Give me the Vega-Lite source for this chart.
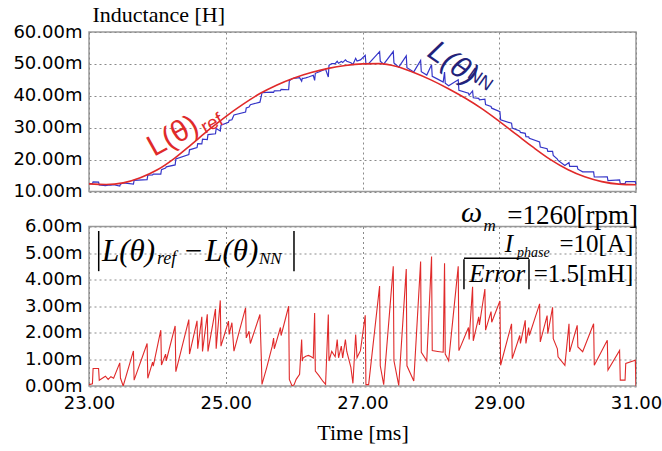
{
  "$schema": "https://vega.github.io/schema/vega-lite/v6.json",
  "padding": {"left": 12, "top": 2, "right": 5, "bottom": 5},
  "bounds": "flush",
  "spacing": 34.5,
  "background": "white",
  "config": {
    "view": {"stroke": "#9a9a9a", "strokeWidth": 1.5},
    "axis": {
      "labelFont": "DejaVu Sans", "labelFontSize": 18, "labelColor": "#000000", "labelOverlap": false, "labelFlush": false,
      "gridColor": "#8a8a8a", "gridDash": [2, 3], "gridWidth": 1,
      "domain": false, "ticks": false
    },
    "text": {"font": "Liberation Serif", "color": "#000000"}
  },
  "datasets": {
    "ref": [
      {"t": 23, "ref": 12.4}, {"t": 23.25, "ref": 12.2}, {"t": 23.5, "ref": 12.7}, {"t": 23.75, "ref": 14.3},
      {"t": 24, "ref": 16.8}, {"t": 24.25, "ref": 20.4}, {"t": 24.5, "ref": 24.8}, {"t": 24.75, "ref": 29.3},
      {"t": 25, "ref": 33.5}, {"t": 25.25, "ref": 37.3}, {"t": 25.5, "ref": 40.7}, {"t": 25.75, "ref": 43.4},
      {"t": 26, "ref": 45.6}, {"t": 26.25, "ref": 47.3}, {"t": 26.5, "ref": 48.6}, {"t": 26.75, "ref": 49.5},
      {"t": 27, "ref": 50.0}, {"t": 27.25, "ref": 50.1}, {"t": 27.5, "ref": 49.2}, {"t": 27.75, "ref": 47.3},
      {"t": 28, "ref": 45.0}, {"t": 28.25, "ref": 42.3}, {"t": 28.5, "ref": 39.3}, {"t": 28.75, "ref": 35.9},
      {"t": 29, "ref": 32.0}, {"t": 29.25, "ref": 27.9}, {"t": 29.5, "ref": 23.8}, {"t": 29.75, "ref": 20.0},
      {"t": 30, "ref": 16.9}, {"t": 30.25, "ref": 14.6}, {"t": 30.5, "ref": 13.1}, {"t": 30.75, "ref": 12.3},
      {"t": 31, "ref": 12.1}
    ],
    "err": [
      {"t": 23.00, "err": 0.05, "nn": 12.45}, {"t": 23.05, "err": 0.08, "nn": 12.44}, {"t": 23.06, "err": 0.66, "nn": 13.01},
      {"t": 23.14, "err": 0.66, "nn": 12.95}, {"t": 23.15, "err": 0.22, "nn": 12.06}, {"t": 23.24, "err": 0.37, "nn": 11.84},
      {"t": 23.28, "err": 0.25, "nn": 12.01}, {"t": 23.32, "err": 0.35, "nn": 11.99}, {"t": 23.36, "err": 0.29, "nn": 12.13},
      {"t": 23.45, "err": 0.87, "nn": 11.73}, {"t": 23.46, "err": 0.30, "nn": 12.32}, {"t": 23.50, "err": 0.00, "nn": 12.70},
      {"t": 23.65, "err": 1.32, "nn": 12.34}, {"t": 23.66, "err": 0.22, "nn": 13.50}, {"t": 23.85, "err": 1.60, "nn": 13.70},
      {"t": 23.86, "err": 0.29, "nn": 15.11}, {"t": 23.93, "err": 0.90, "nn": 15.20}, {"t": 23.94, "err": 0.75, "nn": 15.45},
      {"t": 24.05, "err": 2.10, "nn": 15.42}, {"t": 24.06, "err": 0.79, "nn": 16.87}, {"t": 24.12, "err": 1.20, "nn": 17.33},
      {"t": 24.13, "err": 0.95, "nn": 17.72}, {"t": 24.26, "err": 2.26, "nn": 18.32}, {"t": 24.27, "err": 0.54, "nn": 20.21},
      {"t": 24.46, "err": 2.50, "nn": 21.60}, {"t": 24.47, "err": 1.20, "nn": 23.07}, {"t": 24.58, "err": 2.45, "nn": 23.79},
      {"t": 24.59, "err": 1.40, "nn": 25.02}, {"t": 24.65, "err": 2.60, "nn": 24.90}, {"t": 24.66, "err": 1.30, "nn": 26.38},
      {"t": 24.73, "err": 2.70, "nn": 26.24}, {"t": 24.74, "err": 1.30, "nn": 27.82}, {"t": 24.85, "err": 2.90, "nn": 28.08},
      {"t": 24.86, "err": 1.40, "nn": 29.75}, {"t": 24.92, "err": 3.22, "nn": 28.94}, {"t": 24.93, "err": 1.50, "nn": 30.82},
      {"t": 25.04, "err": 2.44, "nn": 31.67}, {"t": 25.05, "err": 1.94, "nn": 32.32}, {"t": 25.09, "err": 2.38, "nn": 32.49},
      {"t": 25.12, "err": 1.31, "nn": 34.01}, {"t": 25.29, "err": 2.94, "nn": 34.90}, {"t": 25.30, "err": 1.81, "nn": 36.17},
      {"t": 25.34, "err": 2.06, "nn": 36.46}, {"t": 25.36, "err": 1.60, "nn": 37.20}, {"t": 25.50, "err": 2.69, "nn": 38.01},
      {"t": 25.52, "err": 1.06, "nn": 39.86}, {"t": 25.53, "err": 0.06, "nn": 40.96}, {"t": 25.60, "err": 0.70, "nn": 41.08},
      {"t": 25.68, "err": 1.50, "nn": 41.14}, {"t": 25.70, "err": 1.80, "nn": 41.06}, {"t": 25.71, "err": 1.40, "nn": 41.57},
      {"t": 25.80, "err": 2.20, "nn": 41.64}, {"t": 25.81, "err": 1.90, "nn": 42.03}, {"t": 25.92, "err": 3.00, "nn": 41.90},
      {"t": 25.93, "err": 0.25, "nn": 44.73}, {"t": 25.97, "err": 0.00, "nn": 45.34}, {"t": 26.00, "err": 0.05, "nn": 45.55},
      {"t": 26.03, "err": 0.25, "nn": 45.55}, {"t": 26.08, "err": 0.44, "nn": 45.70}, {"t": 26.11, "err": 1.75, "nn": 44.60},
      {"t": 26.12, "err": 0.94, "nn": 45.48}, {"t": 26.13, "err": 1.05, "nn": 45.43}, {"t": 26.17, "err": 1.12, "nn": 45.64},
      {"t": 26.21, "err": 1.15, "nn": 45.88}, {"t": 26.25, "err": 1.10, "nn": 46.20}, {"t": 26.28, "err": 1.05, "nn": 46.41},
      {"t": 26.30, "err": 2.75, "nn": 44.81}, {"t": 26.31, "err": 0.56, "nn": 47.05}, {"t": 26.36, "err": 0.40, "nn": 47.47},
      {"t": 26.42, "err": 0.18, "nn": 48.00}, {"t": 26.46, "err": 0.06, "nn": 48.33}, {"t": 26.50, "err": 2.69, "nn": 45.91},
      {"t": 26.51, "err": 0.94, "nn": 49.58}, {"t": 26.55, "err": 1.30, "nn": 50.08}, {"t": 26.60, "err": 1.10, "nn": 50.06},
      {"t": 26.63, "err": 1.75, "nn": 50.82}, {"t": 26.65, "err": 1.06, "nn": 50.20}, {"t": 26.69, "err": 1.50, "nn": 50.78},
      {"t": 26.71, "err": 1.06, "nn": 50.42}, {"t": 26.75, "err": 1.75, "nn": 51.25}, {"t": 26.77, "err": 1.30, "nn": 50.84},
      {"t": 26.83, "err": 0.70, "nn": 50.36}, {"t": 26.86, "err": 0.10, "nn": 49.82}, {"t": 26.90, "err": 1.94, "nn": 51.74},
      {"t": 26.92, "err": 1.07, "nn": 50.91}, {"t": 26.97, "err": 1.33, "nn": 51.27}, {"t": 27.04, "err": 2.66, "nn": 52.68},
      {"t": 27.05, "err": 0.05, "nn": 50.07}, {"t": 27.09, "err": 0.05, "nn": 50.09}, {"t": 27.25, "err": 3.76, "nn": 53.86},
      {"t": 27.26, "err": 0.76, "nn": 50.82}, {"t": 27.31, "err": 0.05, "nn": 49.93}, {"t": 27.45, "err": 4.50, "nn": 53.88},
      {"t": 27.46, "err": 0.95, "nn": 50.29}, {"t": 27.53, "err": 0.02, "nn": 48.99}, {"t": 27.64, "err": 4.40, "nn": 52.54},
      {"t": 27.65, "err": 0.76, "nn": 48.82}, {"t": 27.75, "err": 0.19, "nn": 47.49}, {"t": 27.85, "err": 4.68, "nn": 51.06},
      {"t": 27.86, "err": 1.27, "nn": 47.56}, {"t": 27.94, "err": 0.95, "nn": 46.50}, {"t": 28.01, "err": 4.87, "nn": 49.76},
      {"t": 28.02, "err": 1.33, "nn": 46.11}, {"t": 28.10, "err": 1.30, "nn": 45.22}, {"t": 28.18, "err": 1.27, "nn": 44.33},
      {"t": 28.20, "err": 4.62, "nn": 47.46}, {"t": 28.21, "err": 1.20, "nn": 43.93}, {"t": 28.26, "err": 0.95, "nn": 43.13},
      {"t": 28.40, "err": 4.50, "nn": 45.00}, {"t": 28.41, "err": 1.33, "nn": 41.71}, {"t": 28.55, "err": 2.20, "nn": 40.82},
      {"t": 28.56, "err": 1.75, "nn": 40.23}, {"t": 28.61, "err": 3.73, "nn": 41.53}, {"t": 28.62, "err": 1.70, "nn": 39.37},
      {"t": 28.70, "err": 2.60, "nn": 39.18}, {"t": 28.71, "err": 2.30, "nn": 38.74}, {"t": 28.79, "err": 3.65, "nn": 38.93},
      {"t": 28.80, "err": 2.10, "nn": 37.22}, {"t": 28.88, "err": 2.80, "nn": 36.67}, {"t": 28.89, "err": 2.40, "nn": 36.12},
      {"t": 29.01, "err": 3.20, "nn": 35.04}, {"t": 29.02, "err": 0.78, "nn": 32.45}, {"t": 29.18, "err": 2.34, "nn": 31.39},
      {"t": 29.19, "err": 1.03, "nn": 29.91}, {"t": 29.30, "err": 1.90, "nn": 28.98}, {"t": 29.31, "err": 1.60, "nn": 28.52},
      {"t": 29.38, "err": 2.47, "nn": 28.24}, {"t": 29.39, "err": 1.60, "nn": 27.20}, {"t": 29.43, "err": 2.20, "nn": 27.15},
      {"t": 29.44, "err": 1.90, "nn": 26.68}, {"t": 29.59, "err": 3.09, "nn": 25.52}, {"t": 29.60, "err": 1.66, "nn": 23.94},
      {"t": 29.70, "err": 2.65, "nn": 23.41}, {"t": 29.71, "err": 1.97, "nn": 22.58}, {"t": 29.78, "err": 2.96, "nn": 22.59},
      {"t": 29.79, "err": 1.78, "nn": 21.28}, {"t": 29.85, "err": 1.40, "nn": 20.16}, {"t": 29.86, "err": 1.10, "nn": 19.74},
      {"t": 29.96, "err": 0.78, "nn": 18.18}, {"t": 30.02, "err": 2.34, "nn": 19.06}, {"t": 30.03, "err": 1.28, "nn": 17.90},
      {"t": 30.14, "err": 2.28, "nn": 17.89}, {"t": 30.15, "err": 1.47, "nn": 16.99}, {"t": 30.22, "err": 1.29, "nn": 16.17},
      {"t": 30.38, "err": 2.34, "nn": 16.16}, {"t": 30.39, "err": 0.78, "nn": 14.54}, {"t": 30.58, "err": 1.72, "nn": 14.56},
      {"t": 30.59, "err": 0.60, "nn": 13.41}, {"t": 30.76, "err": 1.34, "nn": 13.63}, {"t": 30.77, "err": 0.22, "nn": 12.50},
      {"t": 30.84, "err": 0.22, "nn": 12.45}, {"t": 30.85, "err": 0.85, "nn": 13.07}, {"t": 30.99, "err": 0.97, "nn": 13.07},
      {"t": 31.00, "err": 0.00, "nn": 12.10}
    ]
  },
  "vconcat": [
    {
      "width": 547,
      "height": 159.5,
      "encoding": {
        "x": {"type": "quantitative", "title": null,
          "scale": {"domain": [23, 31], "nice": false, "zero": false},
          "axis": {"values": [23, 25, 27, 29, 31], "labels": false, "grid": true}},
        "y": {"type": "quantitative", "title": "Inductance [H]",
          "scale": {"domain": [10, 60], "nice": false, "zero": false},
          "axis": {"values": [10, 20, 30, 40, 50, 60], "labelExpr": "format(datum.value, '.2f') + 'm'",
            "labelPadding": 7, "grid": true,
            "titleAngle": 0, "titleAlign": "left", "titleBaseline": "alphabetic",
            "titleX": 3, "titleY": -10.5, "titleFont": "Liberation Serif", "titleFontSize": 22,
            "titleFontWeight": "normal", "titleColor": "#000000"}}
      },
      "layer": [
        {
          "data": {"name": "err"},
          "mark": {"type": "line", "color": "#3535c8", "strokeWidth": 1.2, "clip": true},
          "encoding": {
            "x": {"field": "t", "type": "quantitative", "title": null},
            "y": {"field": "nn", "type": "quantitative", "title": "Inductance [H]"}
          }
        },
        {
          "data": {"name": "ref"},
          "mark": {"type": "line", "color": "#e02a2a", "strokeWidth": 1.6, "interpolate": "monotone", "clip": true},
          "encoding": {
            "x": {"field": "t", "type": "quantitative", "title": null},
            "y": {"field": "ref", "type": "quantitative", "title": "Inductance [H]"}
          }
        },
        {
          "data": {"values": [{}]},
          "mark": {"type": "text", "text": "L(θ)", "font": "Liberation Sans", "fontSize": 30, "color": "#e02a2a", "angle": -29, "align": "left", "baseline": "alphabetic"},
          "encoding": {"x": {"datum": 23.95, "type": "quantitative"}, "y": {"datum": 20.8, "type": "quantitative"}}
        },
        {
          "data": {"values": [{}]},
          "mark": {"type": "text", "text": "ref", "font": "Liberation Sans", "fontSize": 19, "color": "#e02a2a", "angle": -29, "align": "left", "baseline": "alphabetic"},
          "encoding": {"x": {"datum": 24.70, "type": "quantitative"}, "y": {"datum": 28.0, "type": "quantitative"}}
        },
        {
          "data": {"values": [{}]},
          "mark": {"type": "text", "text": "L(θ)", "font": "Liberation Sans", "fontStyle": "italic", "fontSize": 30, "color": "#22227a", "angle": 35, "align": "left", "baseline": "alphabetic"},
          "encoding": {"x": {"datum": 27.93, "type": "quantitative"}, "y": {"datum": 52.6, "type": "quantitative"}}
        },
        {
          "data": {"values": [{}]},
          "mark": {"type": "text", "text": "NN", "font": "Liberation Sans", "fontSize": 18, "color": "#22227a", "angle": 35, "align": "left", "baseline": "alphabetic"},
          "encoding": {"x": {"datum": 28.52, "type": "quantitative"}, "y": {"datum": 46.0, "type": "quantitative"}}
        }
      ]
    },
    {
      "width": 547,
      "height": 159.5,
      "encoding": {
        "x": {"type": "quantitative", "title": "Time [ms]",
          "scale": {"domain": [23, 31], "nice": false, "zero": false},
          "axis": {"values": [23, 25, 27, 29, 31], "labelExpr": "format(datum.value, '.2f')", "labelPadding": 8,
            "grid": true, "titleFont": "Liberation Serif", "titleFontSize": 22,
            "titleFontWeight": "normal", "titleColor": "#000000", "titlePadding": 10}},
        "y": {"type": "quantitative", "title": null,
          "scale": {"domain": [0, 6], "nice": false, "zero": false},
          "axis": {"values": [0, 1, 2, 3, 4, 5, 6], "labelExpr": "format(datum.value, '.2f') + 'm'",
            "labelPadding": 7, "grid": true}}
      },
      "layer": [
        {
          "data": {"name": "err"},
          "mark": {"type": "line", "color": "#e02a2a", "strokeWidth": 1.1, "clip": true},
          "encoding": {
            "x": {"field": "t", "type": "quantitative", "title": "Time [ms]"},
            "y": {"field": "err", "type": "quantitative", "title": null}
          }
        },
        {
          "data": {"values": [{}]},
          "mark": {"type": "rule", "color": "#000000", "strokeWidth": 1.5},
          "encoding": {"x": {"datum": 23.142, "type": "quantitative"}, "y": {"datum": 4.32, "type": "quantitative"}, "y2": {"datum": 5.83}}
        },
        {
          "data": {"values": [{}]},
          "mark": {"type": "rule", "color": "#000000", "strokeWidth": 1.5},
          "encoding": {"x": {"datum": 25.998, "type": "quantitative"}, "y": {"datum": 4.32, "type": "quantitative"}, "y2": {"datum": 5.83}}
        },
        {
          "data": {"values": [{}]},
          "mark": {"type": "text", "text": "L(θ)", "fontStyle": "italic", "fontSize": 31, "align": "left", "baseline": "alphabetic"},
          "encoding": {"x": {"datum": 23.19, "type": "quantitative"}, "y": {"datum": 4.70, "type": "quantitative"}}
        },
        {
          "data": {"values": [{}]},
          "mark": {"type": "text", "text": "ref", "fontStyle": "italic", "fontSize": 18, "align": "left", "baseline": "alphabetic"},
          "encoding": {"x": {"datum": 23.995, "type": "quantitative"}, "y": {"datum": 4.58, "type": "quantitative"}}
        },
        {
          "data": {"values": [{}]},
          "mark": {"type": "text", "text": "−", "fontSize": 31, "align": "left", "baseline": "alphabetic"},
          "encoding": {"x": {"datum": 24.40, "type": "quantitative"}, "y": {"datum": 4.70, "type": "quantitative"}}
        },
        {
          "data": {"values": [{}]},
          "mark": {"type": "text", "text": "L(θ)", "fontStyle": "italic", "fontSize": 31, "align": "left", "baseline": "alphabetic"},
          "encoding": {"x": {"datum": 24.70, "type": "quantitative"}, "y": {"datum": 4.70, "type": "quantitative"}}
        },
        {
          "data": {"values": [{}]},
          "mark": {"type": "text", "text": "NN", "fontStyle": "italic", "fontSize": 17, "align": "left", "baseline": "alphabetic"},
          "encoding": {"x": {"datum": 25.486, "type": "quantitative"}, "y": {"datum": 4.58, "type": "quantitative"}}
        },
        {
          "data": {"values": [{}]},
          "mark": {"type": "text", "text": "ω", "fontStyle": "italic", "fontSize": 30, "align": "left", "baseline": "alphabetic"},
          "encoding": {"x": {"datum": 28.44, "type": "quantitative"}, "y": {"datum": 6.17, "type": "quantitative"}}
        },
        {
          "data": {"values": [{}]},
          "mark": {"type": "text", "text": "m", "fontStyle": "italic", "fontSize": 17, "align": "left", "baseline": "alphabetic"},
          "encoding": {"x": {"datum": 28.77, "type": "quantitative"}, "y": {"datum": 5.83, "type": "quantitative"}}
        },
        {
          "data": {"values": [{}]},
          "mark": {"type": "text", "text": "=1260[rpm]", "fontSize": 27, "align": "right", "baseline": "alphabetic"},
          "encoding": {"x": {"datum": 31.03, "type": "quantitative"}, "y": {"datum": 6.09, "type": "quantitative"}}
        },
        {
          "data": {"values": [{}]},
          "mark": {"type": "text", "text": "I", "fontStyle": "italic", "fontSize": 25, "align": "left", "baseline": "alphabetic"},
          "encoding": {"x": {"datum": 29.08, "type": "quantitative"}, "y": {"datum": 5.04, "type": "quantitative"}}
        },
        {
          "data": {"values": [{}]},
          "mark": {"type": "text", "text": "phase", "fontStyle": "italic", "fontSize": 14, "align": "left", "baseline": "alphabetic"},
          "encoding": {"x": {"datum": 29.26, "type": "quantitative"}, "y": {"datum": 4.85, "type": "quantitative"}}
        },
        {
          "data": {"values": [{}]},
          "mark": {"type": "text", "text": "=10[A]", "fontSize": 25, "align": "right", "baseline": "alphabetic"},
          "encoding": {"x": {"datum": 30.96, "type": "quantitative"}, "y": {"datum": 5.04, "type": "quantitative"}}
        },
        {
          "data": {"values": [{}]},
          "mark": {"type": "rule", "color": "#000000", "strokeWidth": 1.5},
          "encoding": {"x": {"datum": 28.484, "type": "quantitative"}, "x2": {"datum": 29.435}, "y": {"datum": 4.81, "type": "quantitative"}}
        },
        {
          "data": {"values": [{}]},
          "mark": {"type": "rule", "color": "#000000", "strokeWidth": 1.5},
          "encoding": {"x": {"datum": 28.484, "type": "quantitative"}, "y": {"datum": 3.64, "type": "quantitative"}, "y2": {"datum": 4.77}}
        },
        {
          "data": {"values": [{}]},
          "mark": {"type": "rule", "color": "#000000", "strokeWidth": 1.5},
          "encoding": {"x": {"datum": 29.435, "type": "quantitative"}, "y": {"datum": 3.64, "type": "quantitative"}, "y2": {"datum": 4.77}}
        },
        {
          "data": {"values": [{}]},
          "mark": {"type": "text", "text": "Error", "fontStyle": "italic", "fontSize": 25, "align": "left", "baseline": "alphabetic"},
          "encoding": {"x": {"datum": 28.56, "type": "quantitative"}, "y": {"datum": 3.91, "type": "quantitative"}}
        },
        {
          "data": {"values": [{}]},
          "mark": {"type": "text", "text": "=1.5[mH]", "fontSize": 25, "align": "right", "baseline": "alphabetic"},
          "encoding": {"x": {"datum": 30.96, "type": "quantitative"}, "y": {"datum": 3.91, "type": "quantitative"}}
        }
      ]
    }
  ]
}
